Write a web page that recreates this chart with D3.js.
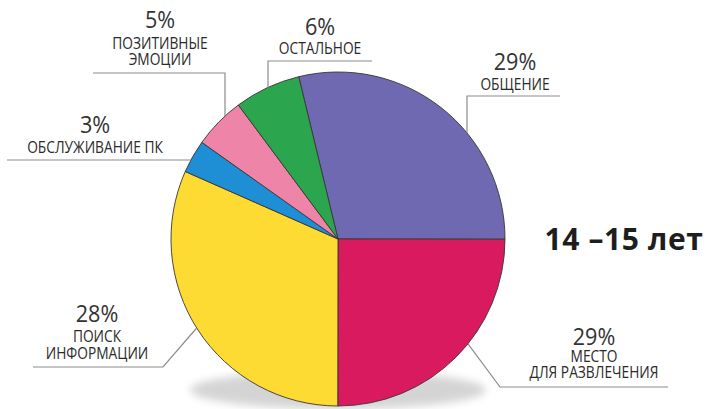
<!DOCTYPE html>
<html>
<head>
<meta charset="utf-8">
<script src="https://cdn.jsdelivr.net/npm/d3@7"></script>
<style>
  body { margin: 0; background: #fff; }
  svg text { font-family: "Open Sans", "Noto Sans", sans-serif; fill: #2b2b2b; }
</style>
</head>
<body>
<svg id="chart" width="710" height="409"></svg>
<script>
// slices in drawing order, clockwise from the purple one
const categories = ["ОБЩЕНИЕ", "МЕСТО ДЛЯ РАЗВЛЕЧЕНИЯ", "ПОИСК ИНФОРМАЦИИ",
    "ОБСЛУЖИВАНИЕ ПК", "ПОЗИТИВНЫЕ ЭМОЦИИ", "ОСТАЛЬНОЕ"];
// printed percentages
const percents = [29, 29, 28, 3, 5, 6];
// share of the circle each slice actually takes in the picture
const shares = [28.8, 25, 31.6, 3.2, 5, 6.4];
const colors = ["#6f69b1", "#d91a5f", "#fedb33", "#1e8fd5", "#ee84a8", "#2ca64e"];
const title = "14 –15 лет";

const svg = d3.select("#chart");
const cx = 338, cy = 239, r = 167;

// soft shadow under the pie
let defs = svg.append("defs");
defs.append("filter").attr("id", "blur")
    .attr("x", "-20%").attr("y", "-50%").attr("width", "140%").attr("height", "200%")
    .append("feGaussianBlur").attr("stdDeviation", 4);
svg.append("ellipse")
    .attr("cx", cx).attr("cy", 390)
    .attr("rx", 148).attr("ry", 19)
    .attr("fill", "#d4d4d4")
    .attr("filter", "url(#blur)");

const startAngle = -13.6 * Math.PI / 180;
let pie = d3.pie().sort(null)
    .startAngle(startAngle)
    .endAngle(startAngle + 2 * Math.PI)
    .value(d => d);
let arc = d3.arc().innerRadius(0).outerRadius(r);

let g = svg.append("g").attr("transform", "translate(" + cx + "," + cy + ")");
g.selectAll("path.slice")
    .data(pie(shares))
    .enter().append("path")
    .attr("class", "slice")
    .attr("d", arc)
    .attr("fill", (d, i) => colors[i])
    .attr("stroke", "#3a3636")
    .attr("stroke-width", 0.9)
    .attr("stroke-linejoin", "round");

// point on the pie rim for a given x (upper or lower half) or y (left half)
let rimAtX = function(x, upper) {
    let dy = Math.sqrt(r * r - (x - cx) * (x - cx));
    return upper ? cy - dy : cy + dy;
};
let rimAtY = function(y) {
    return cx - Math.sqrt(r * r - (y - cy) * (y - cy));
};

// label blocks: index of category, text lines, anchor x and baselines, leader line
const labelLayout = [
    {i: 4, x: 160, ys: [28, 49, 65], lines: ["ПОЗИТИВНЫЕ", "ЭМОЦИИ"],
        leader: [[93, 73], [225, 73], [225, rimAtX(225, true)]]},
    {i: 5, x: 320, ys: [35, 54], lines: ["ОСТАЛЬНОЕ"],
        leader: [[372, 61], [268, 61], [268, rimAtX(268, true)]]},
    {i: 0, x: 515, ys: [70, 90], lines: ["ОБЩЕНИЕ"],
        leader: [[560, 96], [467, 96], [467, rimAtX(467, true)]]},
    {i: 3, x: 95, ys: [133, 153], lines: ["ОБСЛУЖИВАНИЕ ПК"],
        leader: [[7, 160], [rimAtY(160), 160]]},
    {i: 2, x: 97, ys: [322, 342, 359], lines: ["ПОИСК", "ИНФОРМАЦИИ"],
        leader: [[33, 367], [163, 367], [rimAtY(328), 328]]},
    {i: 1, x: 594, ys: [345, 362, 378], lines: ["МЕСТО", "ДЛЯ РАЗВЛЕЧЕНИЯ"],
        leader: [[668, 387], [500, 387], [468, rimAtX(468, false)]]}
];

let line = d3.line();
labelLayout.forEach(function(lab) {
    svg.append("path")
        .attr("d", line(lab.leader))
        .attr("fill", "none")
        .attr("stroke", "#8c8c8c")
        .attr("stroke-width", 1.2);

    let block = svg.append("g");
    block.append("text")
        .attr("transform", "translate(" + lab.x + "," + lab.ys[0] + ") scale(0.94,1)")
        .attr("text-anchor", "middle")
        .attr("font-size", 23)
        .style("fill", "#333")
        .text(percents[lab.i] + "%");
    lab.lines.forEach(function(t, k) {
        block.append("text")
            .attr("transform", "translate(" + lab.x + "," + lab.ys[k + 1] + ") scale(0.86,1)")
            .attr("text-anchor", "middle")
            .attr("font-size", 16)
            .style("fill", "#2a2a2a")
            .text(t);
    });
});

svg.append("text")
    .attr("x", 624).attr("y", 250)
    .attr("text-anchor", "middle")
    .attr("font-size", 30)
    .attr("font-weight", 700)
    .attr("letter-spacing", 0.6)
    .style("fill", "#1e1e1e")
    .text(title);
</script>
</body>
</html>
